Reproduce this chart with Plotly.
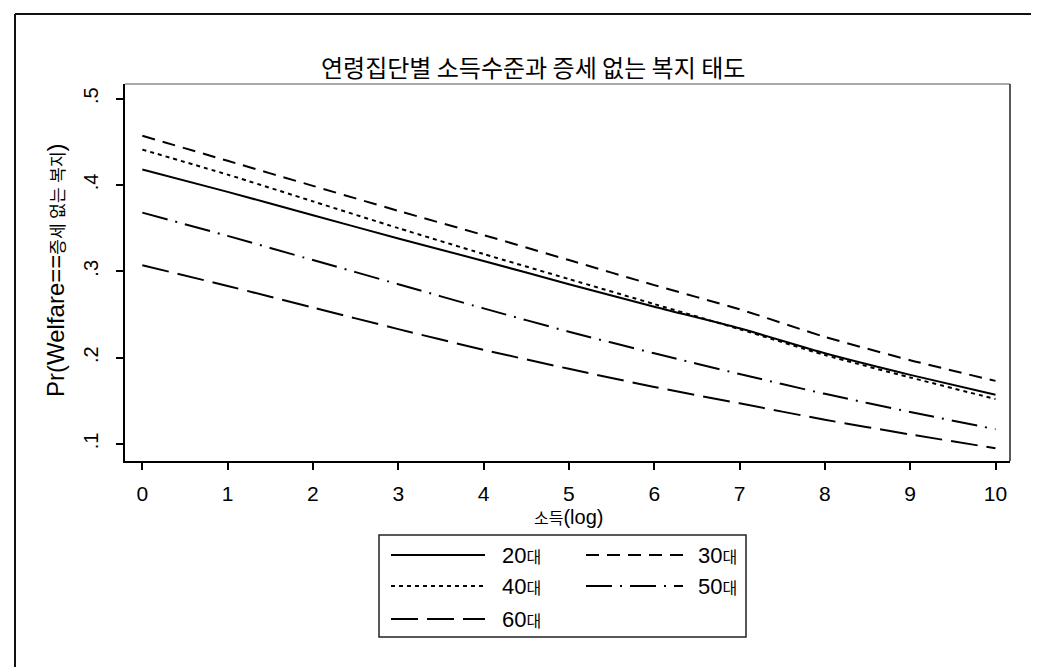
import plotly.graph_objects as go

# ---- data ----
income_log = [0, 1, 2, 3, 4, 5, 6, 7, 8, 9, 10]
age_groups = ["20대", "30대", "40대", "50대", "60대"]
pr_20s = [0.418, 0.392, 0.365, 0.338, 0.312, 0.285, 0.259, 0.234, 0.205, 0.180, 0.157]
pr_30s = [0.457, 0.428, 0.399, 0.370, 0.342, 0.313, 0.284, 0.256, 0.224, 0.197, 0.173]
pr_40s = [0.441, 0.412, 0.381, 0.350, 0.320, 0.291, 0.262, 0.233, 0.203, 0.177, 0.152]
pr_50s = [0.368, 0.341, 0.313, 0.285, 0.257, 0.230, 0.205, 0.181, 0.158, 0.137, 0.117]
pr_60s = [0.307, 0.283, 0.258, 0.233, 0.209, 0.187, 0.166, 0.147, 0.128, 0.111, 0.095]
y_tickvals = [0.1, 0.2, 0.3, 0.4, 0.5]
y_ticktext = [".1", ".2", ".3", ".4", ".5"]
x_tickvals = [0, 1, 2, 3, 4, 5, 6, 7, 8, 9, 10]

series = [pr_20s, pr_30s, pr_40s, pr_50s, pr_60s]
dashes = ["solid", "13px,8px", "4px,4px", "26px,8px,2px,8px", "27px,9px"]

W, H = 1039, 667
L, R, T, B = 117, 1002, 76, 453


def px(x):
    return (x - L) / (R - L)


def py(y):
    return (B - y) / (B - T)


LAT = "Liberation Sans, Arial, Noto Sans CJK KR, sans-serif"

fig = go.Figure()
for name, vals, dash in zip(age_groups, series, dashes):
    fig.add_trace(go.Scatter(
        x=income_log, y=vals, mode="lines", name=name,
        line=dict(color="black", width=2, dash=dash, shape="spline", smoothing=0.6),
        showlegend=False, hoverinfo="x+y+name",
    ))

shapes = []
# outer frame (left and top visible)
shapes.append(dict(type="line", xref="paper", yref="paper", x0=px(7), x1=px(1039), y0=py(6), y1=py(6),
                   line=dict(color="#111", width=2)))
shapes.append(dict(type="line", xref="paper", yref="paper", x0=px(7), x1=px(7), y0=py(6), y1=py(667),
                   line=dict(color="#111", width=2)))
# plot region top & right
shapes.append(dict(type="line", xref="paper", yref="paper", x0=0, x1=1, y0=1, y1=1,
                   line=dict(color="#555", width=1)))
shapes.append(dict(type="line", xref="paper", yref="paper", x0=1, x1=1, y0=0, y1=1,
                   line=dict(color="#222", width=1.5)))
# legend box
shapes.append(dict(type="rect", xref="paper", yref="paper", x0=px(371), x1=px(738), y0=py(629), y1=py(527),
                   line=dict(color="#222", width=1.5), fillcolor="white"))

annotations = []
rows = [547, 578, 611]
cols = [(383, 477, 492), (578, 675, 688)]
for i, (name, dash) in enumerate(zip(age_groups, dashes)):
    r, c = divmod(i, 2)
    x0, x1, xt = cols[c]
    yy = rows[r]
    shapes.append(dict(type="line", xref="paper", yref="paper", x0=px(x0), x1=px(x1), y0=py(yy), y1=py(yy),
                       line=dict(color="black", width=2, dash=dash)))
    annotations.append(dict(xref="paper", yref="paper", x=px(xt), y=py(yy), xanchor="left", yanchor="middle",
                            showarrow=False,
                            text=name[:2] + "<span style='font-size:16px'>" + name[2:] + "</span>",
                            font=dict(family=LAT, size=22, color="black")))

# title
annotations.append(dict(xref="paper", yref="paper", x=px(525), y=py(59), xanchor="center", yanchor="middle",
                        showarrow=False, text="연령집단별 소득수준과 증세 없는 복지 태도",
                        font=dict(family="Noto Sans CJK KR, sans-serif", size=24, color="black")))
# y title
annotations.append(dict(xref="paper", yref="paper", x=px(47), y=py(262), xanchor="center", yanchor="middle",
                        showarrow=False, textangle=-90,
                        text="Pr(Welfare==<span style='font-size:17px'>증세 없는 복지</span>)",
                        font=dict(family=LAT, size=24, color="black")))
# x title
annotations.append(dict(xref="paper", yref="paper", x=px(560), y=py(509), xanchor="center", yanchor="middle",
                        showarrow=False,
                        text="<span style='font-size:16px'>소득</span>(log)",
                        font=dict(family=LAT, size=20, color="black")))

fig.update_layout(
    width=W, height=H,
    margin=dict(l=L, r=W - R, t=T, b=H - B, pad=0),
    paper_bgcolor="white", plot_bgcolor="white",
    showlegend=False,
    shapes=shapes, annotations=annotations,
    xaxis=dict(range=[-0.203, 10.17], tickvals=x_tickvals, ticks="outside", ticklen=7, tickwidth=1.5,
               tickcolor="black", showline=True, linecolor="black", linewidth=2, showgrid=False,
               zeroline=False, ticklabelstandoff=6,
               tickfont=dict(family=LAT, size=21, color="black")),
    yaxis=dict(range=[0.0802, 0.517], tickvals=y_tickvals, ticktext=y_ticktext, ticks="outside", ticklen=7,
               tickwidth=1.5, tickcolor="black", showline=True, linecolor="black", linewidth=2,
               showgrid=False, zeroline=False, tickangle=-90, ticklabelstandoff=10,
               tickfont=dict(family=LAT, size=20, color="black")),
)

fig.write_html("out.html")
